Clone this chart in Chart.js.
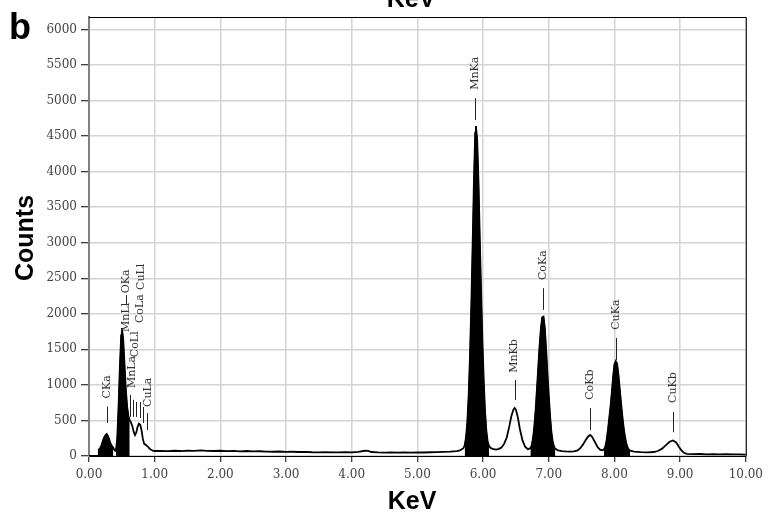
<!DOCTYPE html>
<html>
<head>
<meta charset="utf-8">
<script src="https://cdn.jsdelivr.net/npm/chart.js@4.4.1/dist/chart.umd.min.js"></script>
<style>
  html, body { margin: 0; padding: 0; background: #fff; }
  #wrap { width: 769px; height: 517px; position: relative; }
</style>
</head>
<body>
<div id="wrap"><canvas id="edsChart" width="769" height="517"></canvas></div>
<script>
// EDS spectrum, energy (KeV) vs counts
const energyKeV = [
  0.00, 0.10, 0.14, 0.15, 0.17, 0.19, 0.21, 0.23, 0.25, 0.27, 0.29, 0.31, 0.33, 0.35, 0.37, 0.39,
  0.41, 0.43, 0.45, 0.47, 0.49, 0.50, 0.52, 0.54, 0.56, 0.58, 0.60, 0.62, 0.64, 0.66, 0.68, 0.70,
  0.72, 0.74, 0.76, 0.78, 0.80, 0.82, 0.84, 0.86, 0.88, 0.90, 0.92, 0.94, 0.97, 1.00,
  1.1, 1.2, 1.3, 1.4, 1.5, 1.6, 1.7, 1.8, 1.9, 2.0, 2.1, 2.2, 2.3, 2.4, 2.5, 2.6, 2.7, 2.8, 2.9,
  3.0, 3.1, 3.2, 3.3, 3.4, 3.5, 3.6, 3.7, 3.8, 3.9, 4.0, 4.1, 4.2, 4.25, 4.3, 4.4, 4.5, 4.6, 4.7,
  4.8, 4.9, 5.0, 5.1, 5.2, 5.3, 5.4, 5.5, 5.6, 5.65,
  5.70, 5.72, 5.74, 5.76, 5.78, 5.80, 5.82, 5.84, 5.86, 5.88, 5.89, 5.91, 5.93, 5.95, 5.97, 5.99,
  6.01, 6.03, 6.05, 6.07, 6.09, 6.12, 6.16, 6.20, 6.24, 6.28, 6.32, 6.36, 6.40, 6.43, 6.46, 6.48,
  6.50, 6.53, 6.56, 6.60, 6.64, 6.68,
  6.72, 6.74, 6.76, 6.78, 6.80, 6.82, 6.84, 6.86, 6.88, 6.90, 6.92, 6.94, 6.96, 6.98, 7.00, 7.02,
  7.04, 7.06, 7.08, 7.10, 7.14, 7.20, 7.26, 7.32, 7.38, 7.44, 7.48, 7.52, 7.56, 7.60, 7.63, 7.66,
  7.70, 7.74, 7.78, 7.82,
  7.84, 7.86, 7.88, 7.90, 7.92, 7.94, 7.96, 7.98, 8.00, 8.02, 8.04, 8.06, 8.08, 8.10, 8.12, 8.14,
  8.16, 8.18, 8.20, 8.22, 8.24, 8.30, 8.40, 8.50, 8.60, 8.66, 8.72, 8.78, 8.84, 8.89, 8.94, 8.98,
  9.02, 9.06, 9.10, 9.2, 9.3, 9.4, 9.5, 9.6, 9.7, 9.8, 9.9, 10.0
];
const counts = [
  0, 0, 0, 90, 110, 150, 210, 260, 290, 310, 280, 225, 170, 140, 115, 80,
  70, 250, 700, 1250, 1700, 1800, 1650, 1300, 950, 700, 560, 505, 470, 420, 340, 295,
  330, 410, 455, 440, 360, 240, 170, 160, 145, 130, 105, 90, 75, 70,
  72, 68, 74, 70, 76, 73, 78, 72, 70, 74, 68, 71, 66, 70, 64, 67, 62, 60, 63,
  58, 60, 56, 59, 53, 50, 54, 52, 50, 53, 51, 58, 74, 72, 56, 50, 48, 52, 47,
  50, 48, 52, 49, 53, 55, 58, 62, 70, 80,
  110, 150, 260, 480, 850, 1400, 2100, 2950, 3850, 4550, 4640, 4450, 3850, 3050, 2300, 1600,
  1050, 620, 350, 200, 140, 110, 95, 90, 100, 120, 170, 260, 420, 560, 650, 675,
  650, 540, 380, 220, 130, 95,
  110, 150, 250, 420, 650, 950, 1250, 1550, 1800, 1950, 1960, 1800, 1500, 1150, 850, 560,
  340, 200, 130, 100, 80, 70, 65, 62, 66, 80, 110, 160, 220, 275, 295, 270,
  200, 130, 90, 80,
  90, 130, 220, 360, 530, 700, 900, 1120, 1290, 1335, 1300, 1150, 950, 750, 560, 400,
  270, 180, 120, 90, 75, 62, 55, 52, 56, 70, 100, 150, 200, 218, 190, 130,
  80, 45, 30, 25, 28, 24, 26, 22, 25, 23, 22, 20
];

// energy windows drawn as solid black peaks
const filledFrom = [0.15, 0.41, 5.72, 6.72, 7.84];
const filledTo   = [0.37, 0.62, 6.09, 7.10, 8.24];

// peak labels: text position, marker line position and extent (counts)
const labelText  = ['CKa', 'OKa', 'MnLl', 'MnLa', 'CoLl', 'CoLa', 'CuLl', 'CuLa', 'MnKa', 'MnKb', 'CoKa', 'CoKb', 'CuKa', 'CuKb'];
const labelKeV   = [0.27, 0.56, 0.57, 0.655, 0.70, 0.78, 0.80, 0.90, 5.88, 6.48, 6.91, 7.63, 8.02, 8.89];
const labelAt    = [810, 2290, 1745, 955, 1390, 1870, 2335, 690, 5150, 1170, 2475, 790, 1775, 745];
const lineKeV    = [0.27, 0.56, 0.625, 0.67, 0.72, 0.77, 0.82, 0.89, 5.88, 6.48, 6.91, 7.63, 8.02, 8.89];
const lineLow    = [465, 2120, 550, 550, 550, 535, 465, 365, 4725, 790, 2055, 365, 1350, 335];
const lineHigh   = [695, 2265, 860, 790, 760, 760, 690, 605, 5035, 1070, 2360, 675, 1660, 620];

const xTicks = [0, 1, 2, 3, 4, 5, 6, 7, 8, 9, 10];
const yTicks = [0, 500, 1000, 1500, 2000, 2500, 3000, 3500, 4000, 4500, 5000, 5500, 6000];
const yMax = 6175;

const spectrum = energyKeV.map((e, i) => ({ x: e, y: counts[i] }));

const fillSets = filledFrom.map((from, i) => ({
    data: spectrum.filter(p => p.x >= from && p.x <= filledTo[i]),
    borderColor: '#000',
    borderWidth: 1,
    backgroundColor: '#000',
    fill: 'origin',
    pointRadius: 0,
    order: 1
}));

const serifFont = "'DejaVu Serif', 'Liberation Serif', serif";
const boldFont = "'Liberation Sans', Arial, sans-serif";

const peakLabels = {
    id: 'peakLabels',
    afterDatasetsDraw(chart) {
        const { ctx, scales: { x, y } } = chart;
        ctx.save();
        ctx.strokeStyle = '#222';
        ctx.lineWidth = 1;
        lineKeV.forEach((e, i) => {
            const px = Math.round(x.getPixelForValue(e)) + 0.5;
            ctx.beginPath();
            ctx.moveTo(px, y.getPixelForValue(lineLow[i]));
            ctx.lineTo(px, y.getPixelForValue(lineHigh[i]));
            ctx.stroke();
        });
        ctx.fillStyle = '#333';
        ctx.font = '11px ' + serifFont;
        ctx.textAlign = 'left';
        ctx.textBaseline = 'middle';
        labelText.forEach((t, i) => {
            ctx.save();
            ctx.translate(x.getPixelForValue(labelKeV[i]), y.getPixelForValue(labelAt[i]));
            ctx.rotate(-Math.PI / 2);
            ctx.fillText(t, 0, 0);
            ctx.restore();
        });
        ctx.restore();
    },
    afterDraw(chart) {
        const { ctx, chartArea: a } = chart;
        ctx.save();
        // top and right frame
        ctx.strokeStyle = '#000';
        ctx.lineWidth = 1;
        ctx.beginPath();
        ctx.moveTo(a.left, a.top + 0.5);
        ctx.lineTo(a.right + 0.5, a.top + 0.5);
        ctx.lineTo(a.right + 0.5, a.bottom);
        ctx.stroke();

        ctx.fillStyle = '#000';
        ctx.textAlign = 'center';
        ctx.textBaseline = 'alphabetic';
        ctx.font = 'bold 25px ' + boldFont;
        ctx.fillText('KeV', 411, 7);
        ctx.fillText('KeV', 412, 509);
        ctx.save();
        ctx.translate(33, 238);
        ctx.rotate(-Math.PI / 2);
        ctx.fillText('Counts', 0, 0);
        ctx.restore();
        ctx.textAlign = 'left';
        ctx.font = 'bold 36px ' + boldFont;
        ctx.fillText('b', 9, 39);
        ctx.restore();
    }
};

new Chart(document.getElementById('edsChart'), {
    type: 'line',
    data: {
        datasets: [{
            data: spectrum,
            borderColor: '#000',
            borderWidth: 1.8,
            pointRadius: 0,
            fill: false,
            order: 0
        }, ...fillSets]
    },
    options: {
        responsive: false,
        animation: false,
        layout: { padding: { top: 17, right: 19, left: 0, bottom: 0 } },
        plugins: { legend: { display: false }, tooltip: { enabled: false } },
        scales: {
            x: {
                type: 'linear',
                min: 0,
                max: 10,
                afterBuildTicks: s => { s.ticks = xTicks.map(v => ({ value: v })); },
                afterFit: s => { s.height = 61; },
                grid: { color: '#d4d4d4', lineWidth: 1.5, tickColor: '#000', tickLength: 6, tickWidth: 1 },
                border: { color: '#000', width: 1 },
                ticks: {
                    color: '#444',
                    padding: 6,
                    maxRotation: 0,
                    font: { family: serifFont, size: 12 },
                    callback: v => v.toFixed(2)
                }
            },
            y: {
                type: 'linear',
                min: 0,
                max: yMax,
                afterBuildTicks: s => { s.ticks = yTicks.map(v => ({ value: v })); },
                afterFit: s => { s.width = 89; },
                grid: { color: '#d4d4d4', lineWidth: 1.5, tickColor: '#000', tickLength: 8, tickWidth: 1 },
                border: { color: '#808080', width: 2 },
                ticks: {
                    color: '#444',
                    padding: 4,
                    font: { family: serifFont, size: 12 },
                    callback: v => String(v)
                }
            }
        }
    },
    plugins: [peakLabels]
});
</script>
</body>
</html>
